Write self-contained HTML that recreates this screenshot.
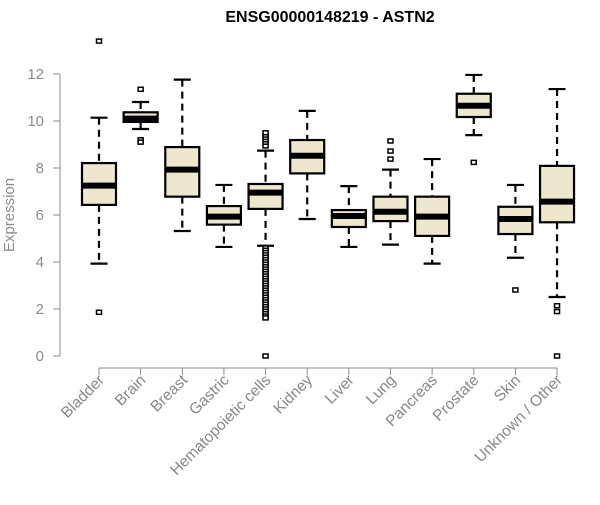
<!DOCTYPE html>
<html><head><meta charset="utf-8"><style>
body{margin:0;background:#fff}
svg{font-family:"Liberation Sans",sans-serif}
</style></head><body>
<svg id="chart" width="600" height="500">
<text x="330" y="22" text-anchor="middle" font-size="16" font-weight="bold" fill="#000">ENSG00000148219 - ASTN2</text>
<text transform="translate(14,215) rotate(-90)" text-anchor="middle" font-size="15" fill="#8c8c8c">Expression</text>
<g id="plot"></g>
</svg>
<script>
const categories=["Bladder","Brain","Breast","Gastric","Hematopoietic cells","Kidney","Liver","Lung","Pancreas","Prostate","Skin","Unknown / Other"];
const lowWhisker=[3.93,9.66,5.32,4.64,4.69,5.83,4.64,4.74,3.93,9.4,4.18,2.51];
const q1=[6.43,9.96,6.78,5.59,6.26,7.77,5.49,5.74,5.11,10.17,5.19,5.69];
const medians=[7.25,10.1,7.93,5.93,6.95,8.52,5.96,6.14,5.93,10.65,5.83,6.57];
const q3=[8.21,10.37,8.89,6.38,7.32,9.19,6.21,6.78,6.78,11.16,6.35,8.09];
const highWhisker=[10.14,10.81,11.76,7.28,8.74,10.43,7.23,7.93,8.38,11.96,7.28,11.36];
const outliers=[[13.4,1.86],[11.35,9.2,9.1],[],[],[8.94,9.1,9.2,9.3,9.4,9.5,4.6,4.5,4.4,4.3,4.2,4.1,4.0,3.9,3.8,3.7,3.6,3.5,3.4,3.3,3.2,3.1,3.0,2.9,2.8,2.7,2.6,2.5,2.4,2.3,2.2,2.1,2.0,1.9,1.8,1.7,1.62,0],[],[],[9.15,8.72,8.38],[],[8.24],[2.81],[2.14,1.89,0]];
const yTicks=[0,2,4,6,8,10,12];
const NS="http://www.w3.org/2000/svg";
const g=document.getElementById('plot');
const y=v=>356-v*23.5;
const x=i=>99+i*41.64;
function mk(t,a){const e=document.createElementNS(NS,t);for(const k in a)e.setAttribute(k,a[k]);g.appendChild(e);return e;}
let ax=mk('line',{x1:60,y1:y(0),x2:60,y2:y(12),stroke:'#8c8c8c','stroke-width':1});


yTicks.forEach(t=>{
 let l=mk('line',{x1:53,x2:60,y1:y(t),y2:y(t),stroke:'#8c8c8c'});
 
 
 let tx=mk('text',{x:44,y:y(t)+5,'text-anchor':'end','font-size':15,fill:'#8c8c8c'});
 tx.textContent=t;
 
 
});
let xa=mk('line',{x1:x(0),x2:x(categories.length-1),y1:368,y2:368,stroke:'#8c8c8c'});


categories.forEach((c,i)=>{
 const cx=x(i);
 let tk=mk('line',{x1:cx,x2:cx,y1:368,y2:375,stroke:'#8c8c8c'});
 
 
 let tx=mk('text',{x:0,y:0,'text-anchor':'end','font-size':15.5,fill:'#888',transform:`translate(${cx+6},${381}) rotate(-45)`});
 tx.textContent=c;
 
 
 const bw=17,cw=8.5;
 let w1=mk('line',{x1:cx,x2:cx,y1:y(highWhisker[i]),y2:y(q3[i]),stroke:'#000','stroke-width':2.2,'stroke-dasharray':'7,5'});
 
 
 let w2=mk('line',{x1:cx,x2:cx,y1:y(q1[i]),y2:y(lowWhisker[i]),stroke:'#000','stroke-width':2.2,'stroke-dasharray':'7,5'});
 
 
 let c1=mk('line',{x1:cx-cw,x2:cx+cw,y1:y(highWhisker[i]),y2:y(highWhisker[i]),stroke:'#000','stroke-width':2.2});
 
 
 let c2=mk('line',{x1:cx-cw,x2:cx+cw,y1:y(lowWhisker[i]),y2:y(lowWhisker[i]),stroke:'#000','stroke-width':2.2});
 
 
 let b=mk('rect',{x:cx-bw,y:y(q3[i]),width:bw*2,height:y(q1[i])-y(q3[i]),fill:'#EDE7CE',stroke:'#000','stroke-width':2.2});
 
 
 let m=mk('line',{x1:cx-bw,x2:cx+bw,y1:y(medians[i]),y2:y(medians[i]),stroke:'#000','stroke-width':6});
 
 
 outliers[i].forEach(v=>{
  let o=mk('rect',{x:cx-2.5,y:y(v)-2,width:5,height:4,fill:'#fff',stroke:'#000','stroke-width':1.5});
  
  
 });
});
</script>
</body></html>
